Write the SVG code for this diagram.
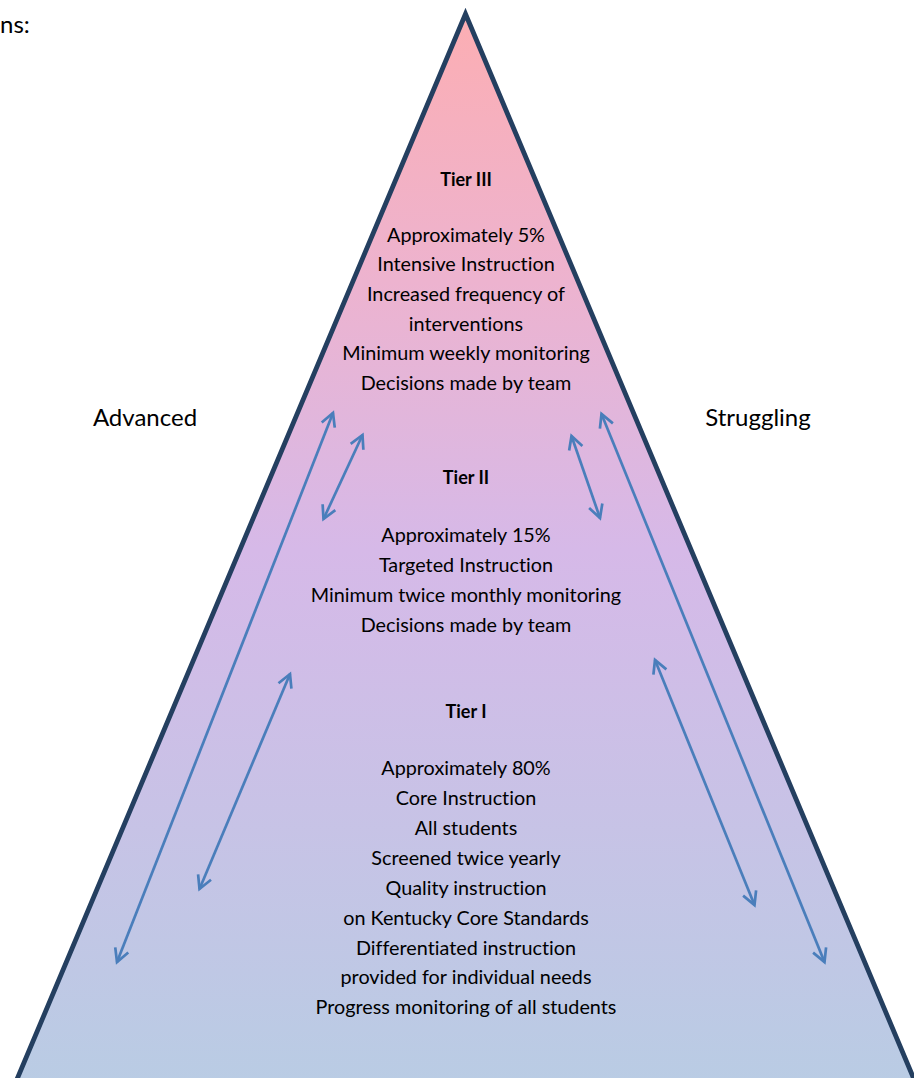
<svg xmlns="http://www.w3.org/2000/svg" width="914" height="1078" viewBox="0 0 914 1078">
<style>
text{font-family:Lato,"Open Sans","Liberation Sans",sans-serif;fill:#000;text-anchor:middle;font-variant-ligatures:none}
.t{font-size:19.8px}
.b{font-size:18px;font-weight:bold}
.s{font-size:24px}
.a{stroke:#4A7EBB;stroke-width:2.7;fill:none;marker-start:url(#h);marker-end:url(#h)}
</style>
<defs>
<linearGradient id="g" x1="0" y1="0" x2="0" y2="1">
<stop offset="0" stop-color="#FCAEB3"/>
<stop offset="0.25" stop-color="#EDB3CF"/>
<stop offset="0.5" stop-color="#D6B9E8"/>
<stop offset="1" stop-color="#B9CCE4"/>
</linearGradient>
<marker id="h" viewBox="-15 -9 18 18" refX="0" refY="0" markerWidth="18" markerHeight="18" markerUnits="userSpaceOnUse" orient="auto-start-reverse">
<path d="M-13,-7 L0,0 L-13,7" fill="none" stroke="#4A7EBB" stroke-width="2.7"/>
</marker>
</defs>
<text x="0" y="33" class="s" style="text-anchor:start">ns:</text>
<g id="pyramid">
<polygon points="465.5,14 15,1084 916,1084" fill="url(#g)" stroke="#243F60" stroke-width="4.8"/>
</g>
<g id="tier3">
<text x="466" y="186" class="b">Tier III</text>
<text x="466" y="242" class="t">Approximately 5%</text>
<text x="466" y="271" class="t">Intensive Instruction</text>
<text x="466" y="301" class="t">Increased frequency of</text>
<text x="466" y="331" class="t">interventions</text>
<text x="466" y="360" class="t">Minimum weekly monitoring</text>
<text x="466" y="390" class="t">Decisions made by team</text>
</g>
<g id="tier2">
<text x="466" y="484" class="b">Tier II</text>
<text x="466" y="542" class="t">Approximately 15%</text>
<text x="466" y="572" class="t">Targeted Instruction</text>
<text x="466" y="602" class="t">Minimum twice monthly monitoring</text>
<text x="466" y="632" class="t">Decisions made by team</text>
</g>
<g id="tier1">
<text x="466" y="718" class="b">Tier I</text>
<text x="466" y="775" class="t">Approximately 80%</text>
<text x="466" y="805" class="t">Core Instruction</text>
<text x="466" y="835" class="t">All students</text>
<text x="466" y="865" class="t">Screened twice yearly</text>
<text x="466" y="895" class="t">Quality instruction</text>
<text x="466" y="925" class="t">on Kentucky Core Standards</text>
<text x="466" y="955" class="t">Differentiated instruction</text>
<text x="466" y="984" class="t">provided for individual needs</text>
<text x="466" y="1014" class="t">Progress monitoring of all students</text>
</g>
<g id="advanced"><text x="145" y="426" class="s">Advanced</text></g>
<g id="struggling"><text x="758" y="426" class="s">Struggling</text></g>
<g id="connectors">
<line class="a" x1="333" y1="413" x2="117" y2="962"/>
<line class="a" x1="362.5" y1="435" x2="323.5" y2="519"/>
<line class="a" x1="290" y1="674" x2="199.5" y2="889"/>
<line class="a" x1="601.5" y1="414" x2="824.5" y2="962"/>
<line class="a" x1="571.5" y1="436" x2="600" y2="518"/>
<line class="a" x1="655" y1="660" x2="754.5" y2="905"/>
</g>
</svg>
